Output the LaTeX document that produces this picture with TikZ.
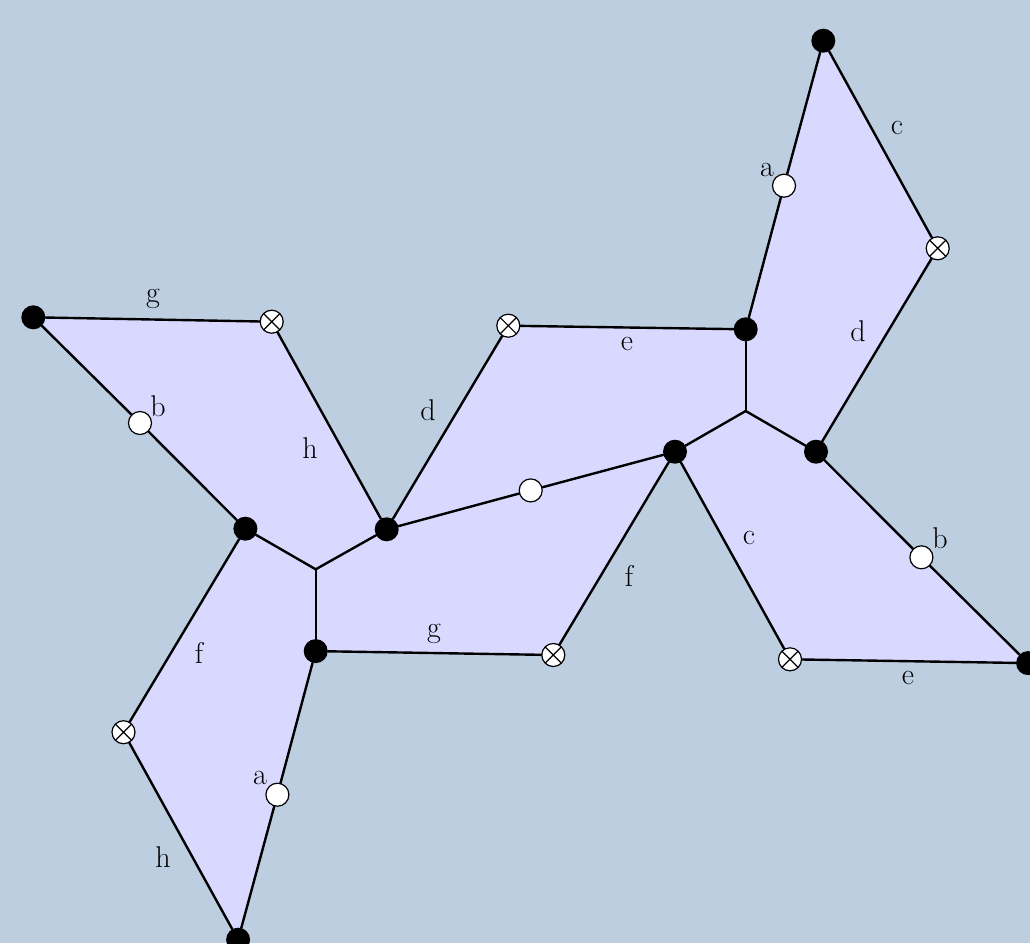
\documentclass[tikz,border=0pt]{standalone}
\usetikzlibrary{backgrounds}
\definecolor{bgcol}{RGB}{188,206,224}
\definecolor{facecol}{RGB}{217,217,255}
\begin{document}
\begin{tikzpicture}[x=1pt,y=-1pt,
  bdot/.style={circle,fill=black,inner sep=0pt,minimum size=24pt},
  wdot/.style={circle,draw=black,line width=1.2pt,fill=white,inner sep=0pt,minimum size=23pt},
  xdot/.style={circle,draw=black,line width=1.2pt,fill=white,inner sep=0pt,minimum size=23pt,
    path picture={\draw[line width=1.2pt] (path picture bounding box.north west) -- (path picture bounding box.south east)
      (path picture bounding box.north east) -- (path picture bounding box.south west);}},
  edge/.style={line width=2.4pt,line cap=round},
  face/.style={fill=facecol},
  lab/.style={inner sep=0pt,font=\fontsize{30}{36}\selectfont}]
\useasboundingbox (0,0) rectangle (1030,943);
% junctions
\coordinate (J1) at (745.7,411);
\coordinate (J2) at (315.7,569.3);
% vertices
\node[bdot] (A1) at (823.3,40.7) {};
\node[bdot] (A2) at (745.7,329.3) {};
\node[bdot] (A3) at (816,451.7) {};
\node[bdot] (A4) at (675,451.7) {};
\node[bdot] (A5) at (386.7,529.3) {};
\node[bdot] (A6) at (245.4,528.7) {};
\node[bdot] (A7) at (315.7,651.1) {};
\node[bdot] (A8) at (238.1,939.7) {};
\node[bdot] (A9) at (33.3,317.3) {};
\node[bdot] (A10) at (1028.1,663.1) {};
\node[wdot] (Wa1) at (784,185.7) {};
\node[wdot] (Wa2) at (277.4,794.7) {};
\node[wdot] (Wb1) at (921.4,557.3) {};
\node[wdot] (Wb2) at (140,423) {};
\node[wdot] (W) at (530.7,490.4) {};
\node[xdot] (X1) at (937.7,248.3) {};
\node[xdot] (X2) at (790,659.3) {};
\node[xdot] (X3) at (508.3,325.7) {};
\node[xdot] (X4) at (553.3,655) {};
\node[xdot] (X5) at (271.7,321.7) {};
\node[xdot] (X6) at (123.5,732.2) {};
% faces
\begin{scope}[on background layer]
\fill[bgcol] (0,0) rectangle (1030,943);
\path[face] (A1.center) -- (X1.center) -- (A3.center) -- (J1) -- (A2.center) -- cycle;
\path[face] (A3.center) -- (A10.center) -- (X2.center) -- (A4.center) -- (J1) -- cycle;
\path[face] (A2.center) -- (J1) -- (A4.center) -- (A5.center) -- (X3.center) -- cycle;
\path[face] (A5.center) -- (A4.center) -- (X4.center) -- (A7.center) -- (J2) -- cycle;
\path[face] (A9.center) -- (X5.center) -- (A5.center) -- (J2) -- (A6.center) -- cycle;
\path[face] (A6.center) -- (J2) -- (A7.center) -- (A8.center) -- (X6.center) -- cycle;
\end{scope}
% edges
\draw[edge] (A1) -- (Wa1);
\draw[edge] (Wa1) -- (A2);
\draw[edge] (A1) -- (X1);
\draw[edge] (X1) -- (A3);
\draw[edge] (A2) -- (J1);
\draw[edge] (J1) -- (A3);
\draw[edge] (J1) -- (A4);
\draw[edge] (A3) -- (Wb1);
\draw[edge] (Wb1) -- (A10);
\draw[edge] (A10) -- (X2);
\draw[edge] (X2) -- (A4);
\draw[edge] (A4) -- (X4);
\draw[edge] (X4) -- (A7);
\draw[edge] (A7) -- (J2);
\draw[edge] (J2) -- (A6);
\draw[edge] (J2) -- (A5);
\draw[edge] (A5) -- (W);
\draw[edge] (W) -- (A4);
\draw[edge] (A5) -- (X3);
\draw[edge] (X3) -- (A2);
\draw[edge] (A5) -- (X5);
\draw[edge] (X5) -- (A9);
\draw[edge] (A9) -- (Wb2);
\draw[edge] (Wb2) -- (A6);
\draw[edge] (A6) -- (X6);
\draw[edge] (X6) -- (A8);
\draw[edge] (A8) -- (Wa2);
\draw[edge] (Wa2) -- (A7);
% labels
\node[lab] (la1) at (767,170) {a};
\node[lab] (lc1) at (897,128) {c};
\node[lab] (ld1) at (858,331) {d};
\node[lab] (le1) at (627,344) {e};
\node[lab] (ld2) at (428,410) {d};
\node[lab] (lh1) at (310,448) {h};
\node[lab] (lg1) at (153,299) {g};
\node[lab] (lb1) at (158,406) {b};
\node[lab] (lb2) at (940,538) {b};
\node[lab] (le2) at (908,678) {e};
\node[lab] (lc2) at (749,538) {c};
\node[lab] (lf1) at (629,576) {f};
\node[lab] (lg2) at (434,634) {g};
\node[lab] (lf2) at (199,653) {f};
\node[lab] (lh2) at (163,857) {h};
\node[lab] (la2) at (260,778) {a};
\end{tikzpicture}
\end{document}
